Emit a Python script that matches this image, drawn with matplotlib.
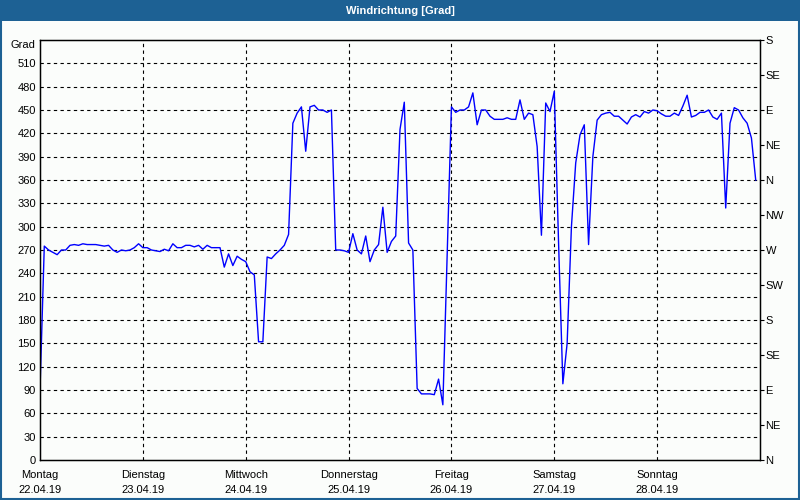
import numpy as np
import matplotlib.pyplot as plt
from matplotlib.patches import Rectangle

# hourly wind direction values, 22.04.19 00:00 onwards
wind_dir = [
    90, 275, 270, 267, 264, 270, 270, 276, 277, 276,
    278, 277, 277, 277, 276, 275, 276, 270, 267, 270,
    269, 270, 273, 278, 273, 273, 270, 269, 268, 271,
    269, 278, 273, 273, 276, 276, 274, 276, 271, 276,
    273, 273, 273, 248, 265, 250, 262, 258, 255, 242,
    238, 152, 152, 261, 259, 265, 270, 276, 290, 433,
    446, 454, 397, 454, 456, 450, 450, 447, 450, 270,
    270, 269, 267, 291, 270, 265, 288, 255, 270, 277,
    325, 267, 281, 288, 425, 460, 279, 270, 92, 85,
    85, 85, 84, 104, 71, 265, 454, 447, 450, 450,
    454, 472, 431, 450, 450, 442, 438, 438, 438, 440,
    438, 438, 463, 438, 446, 444, 403, 289, 459, 448,
    474, 279, 98, 150, 300, 382, 418, 431, 277, 390,
    437, 444, 446, 447, 442, 442, 437, 432, 441, 444,
    441, 448, 446, 450, 449, 445, 442, 442, 446, 443,
    455, 469, 441, 443, 447, 447, 450, 441, 438, 446,
    324, 433, 453, 450, 440, 433, 414, 360,
]

day_names = ["Montag", "Dienstag", "Mittwoch", "Donnerstag",
             "Freitag", "Samstag", "Sonntag"]
day_dates = ["22.04.19", "23.04.19", "24.04.19", "25.04.19",
             "26.04.19", "27.04.19", "28.04.19"]

deg_labels = [str(v) for v in range(0, 540, 30)] + ["Grad"]
compass = ["N", "NE", "E", "SE", "S", "SW", "W", "NW",
           "N", "NE", "E", "SE", "S"]

plt.rcParams["font.family"] = ["Liberation Sans", "DejaVu Sans"]
plt.rcParams["font.size"] = 8

bg = "#fbfdfb"
bar_col = "#1d6194"

fig = plt.figure(figsize=(8, 5), dpi=100, facecolor=bg)

# title bar and window frame
fig.patches.append(Rectangle((0, 1 - 21 / 500), 1, 21 / 500, transform=fig.transFigure,
                             facecolor=bar_col, edgecolor="none", zorder=0))
fig.patches.append(Rectangle((0.001, 0.002), 0.998, 0.996, transform=fig.transFigure,
                             facecolor="none", edgecolor=bar_col, lw=1.5, zorder=0))
fig.text(0.5, 1 - 10.5 / 500, "Windrichtung [Grad]", color="white", weight="bold",
         ha="center", va="center", fontsize=8)

ax = fig.add_axes([40 / 800, 40 / 500, 720 / 800, 420 / 500])
ax.set_facecolor(bg)

hours = np.arange(len(wind_dir))
ax.plot(hours, wind_dir, color="#0000ff", lw=1)

ax.set_xlim(0, 168)
ax.set_ylim(0, 540)

ax.set_yticks(np.arange(0, 541, 30))
ax.set_yticklabels(deg_labels)
ax.get_yticklabels()[-1].set_va("top")
ax.set_xticks(np.arange(0, 168, 24))
ax.set_xticklabels([f"{n}\n{d}" for n, d in zip(day_names, day_dates)], linespacing=1.6)
ax.tick_params(axis="both", length=0, colors="black")
ax.tick_params(axis="y", pad=3)
ax.tick_params(axis="x", pad=7)

for v in range(30, 540, 30):
    ax.axhline(v, color="black", lw=0.8, ls=(0, (3, 3)), zorder=1)
for h in range(24, 168, 24):
    ax.axvline(h, color="black", lw=0.8, ls=(0, (3, 3)), zorder=1)

for s in ax.spines.values():
    s.set_linewidth(1)
    s.set_color("black")

ax2 = ax.twinx()
ax2.set_ylim(0, 540)
ax2.set_yticks(np.arange(0, 541, 45))
ax2.set_yticklabels(compass)
ax2.tick_params(axis="y", length=3, width=0.8, pad=1, colors="black")

fig.savefig("out.png", dpi=100, facecolor=bg)
